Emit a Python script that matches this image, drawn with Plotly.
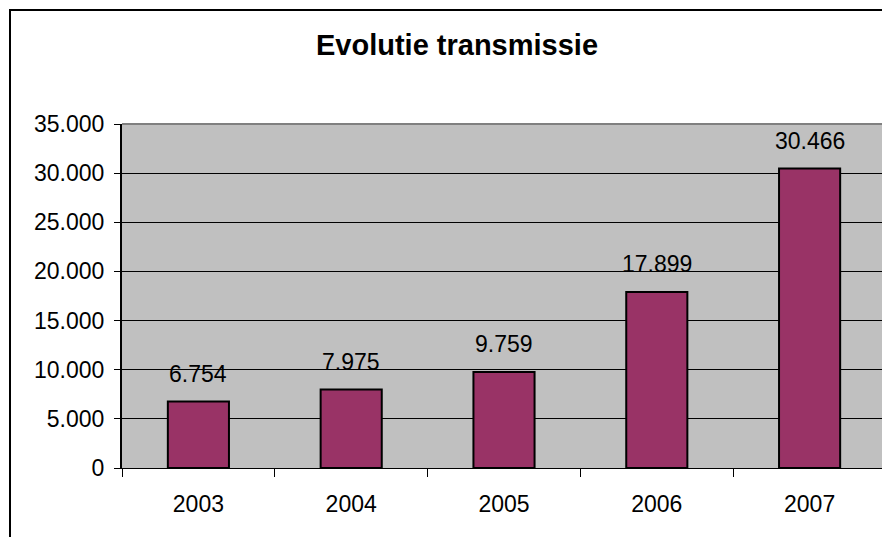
import plotly.graph_objects as go

years = ["2003", "2004", "2005", "2006", "2007"]
values = [6754, 7975, 9759, 17899, 30466]
labels = ["6.754", "7.975", "9.759", "17.899", "30.466"]
title_text = "Evolutie transmissie"

# the page body has an 8px margin, so the figure is offset by 8px
W, H = 882, 529
ML, MR, MT, MB = 114, 4, 116, 69
PW, PH = W - ML - MR, H - MT - MB
FONT = "Liberation Sans, Arial, sans-serif"
FS = 23

fig = go.Figure()
fig.add_trace(go.Bar(
    x=years, y=values,
    marker=dict(color="#993366", line=dict(color="black", width=2)),
    width=0.4,
    hoverinfo="skip",
))

for i, (yv, lab) in enumerate(zip(values, labels)):
    fig.add_annotation(x=i, y=yv, text=lab, showarrow=False,
                       xref="x", yref="y", yanchor="bottom", yshift=13,
                       font=dict(family=FONT, size=FS, color="black"))

# outer chart border (extends past the image on right and bottom)
fig.add_shape(type="rect", xref="paper", yref="paper",
              x0=-(ML - 2) / PW, x1=1.2, y0=-0.5, y1=1 + (MT - 2) / PH,
              line=dict(color="black", width=2), fillcolor="rgba(0,0,0,0)", layer="above")
# plot area top and right gray borders
fig.add_shape(type="line", xref="paper", yref="paper", x0=0, x1=1, y0=1, y1=1,
              line=dict(color="#808080", width=2), layer="above")
fig.add_shape(type="line", xref="paper", yref="paper", x0=1, x1=1, y0=0, y1=1,
              line=dict(color="#808080", width=2), layer="above")

fig.update_layout(
    width=W, height=H,
    margin=dict(l=ML, r=MR, t=MT, b=MB),
    paper_bgcolor="white",
    plot_bgcolor="#C0C0C0",
    separators=",.",
    showlegend=False,
    font=dict(family=FONT, size=FS, color="black"),
    title=dict(text="<b>" + title_text + "</b>", xref="container", yref="container",
               x=449/W, xanchor="center", y=1 - 37/H, yanchor="middle",
               font=dict(family=FONT, size=29, color="black")),
    bargap=0.6,
)
fig.update_xaxes(
    type="category", range=[-0.5, 4.5], automargin=False,
    showline=True, linecolor="black", linewidth=1,
    ticks="outside", tickson="boundaries", ticklen=8, tickcolor="black", tickwidth=1,
    showgrid=False, ticklabelstandoff=15, tickangle=0,
    tickfont=dict(family=FONT, size=FS, color="black"),
)
fig.update_yaxes(
    range=[0, 35000], dtick=5000, tickformat=",d", automargin=False,
    showline=True, linecolor="black", linewidth=2,
    ticks="outside", ticklen=6, tickcolor="black", tickwidth=1,
    showgrid=True, gridcolor="black", gridwidth=1,
    zeroline=False, ticklabelstandoff=5,
    tickfont=dict(family=FONT, size=FS, color="black"),
)

fig.write_html("out.html")
